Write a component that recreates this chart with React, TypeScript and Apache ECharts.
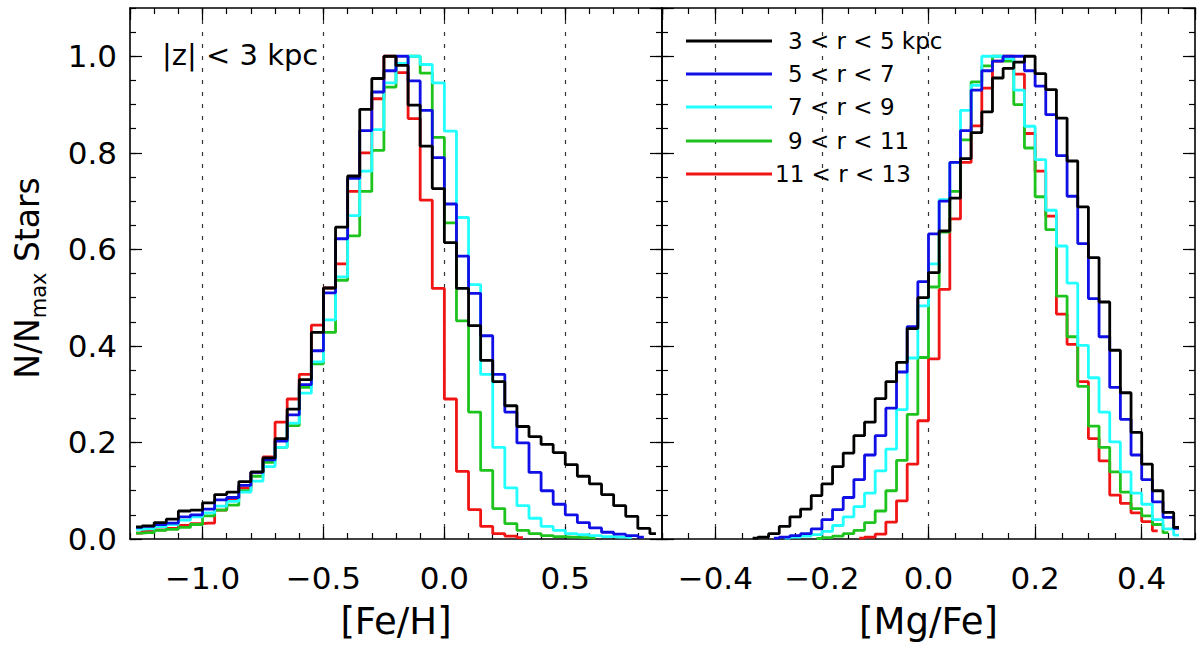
import React, { useEffect, useRef } from 'react';
import * as echarts from 'echarts';

// ---------- data ----------
const feCenters: number[] = [
  -1.275, -1.225, -1.175, -1.125, -1.075, -1.025, -0.975, -0.925, -0.875, -0.825,
  -0.775, -0.725, -0.675, -0.625, -0.575, -0.525, -0.475, -0.425, -0.375, -0.325,
  -0.275, -0.225, -0.175, -0.125, -0.075, -0.025, 0.025, 0.075, 0.125, 0.175,
  0.225, 0.275, 0.325, 0.375, 0.425, 0.475, 0.525, 0.575, 0.625, 0.675,
  0.725, 0.775, 0.825, 0.875,
];

const feBlack: (number | null)[] = [
  0.025, 0.027, 0.034, 0.041, 0.058, 0.060, 0.075, 0.092, 0.097, 0.119,
  0.139, 0.168, 0.208, 0.269, 0.330, 0.428, 0.520, 0.646, 0.752, 0.890,
  0.954, 1.000, 0.981, 0.899, 0.814, 0.726, 0.614, 0.519, 0.442, 0.370,
  0.326, 0.276, 0.233, 0.212, 0.196, 0.179, 0.154, 0.130, 0.114, 0.092,
  0.069, 0.047, 0.022, 0.011,
];
const feBlue: (number | null)[] = [
  0.024, 0.026, 0.030, 0.033, 0.046, 0.050, 0.062, 0.081, 0.086, 0.111,
  0.138, 0.164, 0.203, 0.257, 0.320, 0.390, 0.510, 0.622, 0.747, 0.846,
  0.926, 0.970, 1.000, 0.949, 0.888, 0.790, 0.694, 0.586, 0.509, 0.421,
  0.341, 0.263, 0.199, 0.138, 0.100, 0.072, 0.050, 0.034, 0.023, 0.014,
  0.010, 0.007, 0.004, null,
];
const feCyan: (number | null)[] = [
  0.020, 0.021, 0.025, 0.030, 0.039, 0.046, 0.054, 0.068, 0.078, 0.097,
  0.120, 0.150, 0.190, 0.240, 0.302, 0.367, 0.454, 0.543, 0.670, 0.762,
  0.848, 0.945, 0.985, 1.000, 0.983, 0.945, 0.845, 0.666, 0.527, 0.341,
  0.190, 0.106, 0.069, 0.043, 0.026, 0.018, 0.011, 0.009, 0.007, 0.005,
  0.004, 0.003, null, null,
];
const feGreen: (number | null)[] = [
  0.012, 0.013, 0.018, 0.020, 0.024, 0.030, 0.048, 0.060, 0.070, 0.100,
  0.130, 0.159, 0.190, 0.235, 0.314, 0.363, 0.428, 0.536, 0.628, 0.720,
  0.805, 0.936, 0.985, 1.000, 0.965, 0.832, 0.655, 0.452, 0.263, 0.142,
  0.063, 0.032, 0.018, 0.011, 0.007, 0.005, 0.004, 0.003, 0.002, null,
  null, null, null, null,
];
const feRed: (number | null)[] = [
  0.012, 0.016, 0.019, 0.022, 0.028, 0.032, 0.033, 0.060, 0.083, 0.106,
  0.138, 0.170, 0.242, 0.290, 0.341, 0.443, 0.520, 0.570, 0.720, 0.800,
  0.912, 1.000, 0.966, 0.871, 0.702, 0.519, 0.290, 0.140, 0.061, 0.026,
  0.011, 0.006, 0.003, null, null, null, null, null, null, null,
  null, null, null, null,
];

const mgCenters: number[] = [
  -0.35, -0.33, -0.31, -0.29, -0.27, -0.25, -0.23, -0.21, -0.19, -0.17,
  -0.15, -0.13, -0.11, -0.09, -0.07, -0.05, -0.03, -0.01, 0.01, 0.03,
  0.05, 0.07, 0.09, 0.11, 0.13, 0.15, 0.17, 0.19, 0.21, 0.23,
  0.25, 0.27, 0.29, 0.31, 0.33, 0.35, 0.37, 0.39, 0.41, 0.43,
  0.45, 0.47,
];
const mgBlack: (number | null)[] = [
  null, 0.002, 0.004, 0.011, 0.026, 0.046, 0.062, 0.090, 0.114, 0.150,
  0.178, 0.214, 0.242, 0.291, 0.326, 0.366, 0.436, 0.500, 0.552, 0.638,
  0.706, 0.788, 0.842, 0.885, 0.955, 0.975, 0.988, 1.000, 0.964, 0.931,
  0.872, 0.783, 0.688, 0.583, 0.491, 0.391, 0.303, 0.221, 0.155, 0.100,
  0.055, 0.024,
];
const mgBlue: (number | null)[] = [
  null, null, null, 0.002, 0.004, 0.007, 0.011, 0.021, 0.040, 0.061,
  0.086, 0.123, 0.174, 0.214, 0.271, 0.346, 0.440, 0.533, 0.632, 0.700,
  0.780, 0.846, 0.930, 0.970, 0.990, 1.000, 1.000, 0.970, 0.938, 0.879,
  0.794, 0.710, 0.612, 0.498, 0.419, 0.314, 0.248, 0.174, 0.123, 0.077,
  0.045, 0.022,
];
const mgCyan: (number | null)[] = [
  null, null, null, null, 0.002, 0.004, 0.006, 0.009, 0.016, 0.028,
  0.046, 0.067, 0.095, 0.141, 0.186, 0.268, 0.375, 0.483, 0.570, 0.703,
  0.780, 0.888, 0.940, 1.000, 1.000, 0.995, 0.930, 0.855, 0.786, 0.681,
  0.607, 0.530, 0.401, 0.334, 0.263, 0.201, 0.139, 0.095, 0.072, 0.040,
  0.021, 0.008,
];
const mgGreen: (number | null)[] = [
  null, null, null, null, null, null, null, 0.001, 0.003, 0.006,
  0.011, 0.018, 0.034, 0.058, 0.100, 0.163, 0.258, 0.376, 0.522, 0.636,
  0.720, 0.827, 0.947, 0.980, 1.000, 0.990, 0.900, 0.810, 0.709, 0.641,
  0.503, 0.419, 0.316, 0.234, 0.190, 0.139, 0.097, 0.063, 0.048, 0.030,
  0.013, null,
];
const mgRed: (number | null)[] = [
  null, null, null, null, null, null, null, null, null, null,
  null, 0.002, 0.004, 0.010, 0.035, 0.079, 0.155, 0.245, 0.373, 0.517,
  0.663, 0.780, 0.856, 0.934, 0.990, 1.000, 0.963, 0.840, 0.762, 0.669,
  0.466, 0.403, 0.326, 0.208, 0.162, 0.091, 0.074, 0.054, 0.036, 0.017,
  null, null,
];

const legendLabels: string[] = ['3 < r < 5 kpc', '5 < r < 7', '7 < r < 9', '9 < r < 11', '11 < r < 13'];
const seriesColors: string[] = ['#000000', '#1010e6', '#22ffff', '#1ec31e', '#f01414'];
const panelNote = '|z| < 3 kpc';

// ---------- helpers ----------
const FONT = "'DejaVu Sans', 'Liberation Sans', sans-serif";
const BLACK = '#000';

function fmt(v: number): string {
  const s = Math.abs(v).toFixed(1);
  return v < -1e-9 ? '\u2212' + s : s;
}

function pairs(xs: number[], ys: (number | null)[]): number[][] {
  const out: number[][] = [];
  for (let i = 0; i < xs.length; i++) {
    const y = ys[i];
    if (y !== null && y !== undefined) out.push([xs[i], y]);
  }
  return out;
}

function xAxesFor(grid: number, min: number, max: number, major: number, minor: number, name: string) {
  const tickStyle = { color: BLACK, width: 1.2 };
  const base = { type: 'value', gridIndex: grid, min, max };
  return [
    {
      ...base,
      position: 'bottom',
      minInterval: major,
      maxInterval: major,
      splitNumber: Math.floor((max - min) / major + 1e-6),
      axisLine: { show: true, onZero: false, lineStyle: { color: BLACK, width: 1.6 } },
      axisTick: { show: true, inside: true, length: 12, lineStyle: tickStyle },
      axisLabel: {
        show: true, margin: 23, fontSize: 31, color: BLACK, fontFamily: FONT,
        showMinLabel: false, showMaxLabel: false,
        formatter: (v: number) => (Math.abs(v - min) < 1e-6 || Math.abs(v - max) < 1e-6 ? '' : fmt(v)),
      },
      splitLine: { show: true, showMinLine: false, showMaxLine: false, lineStyle: { color: '#333', width: 1.2, type: [4, 8] } },
      name,
      nameLocation: 'middle',
      nameGap: 64,
      nameTextStyle: { fontSize: 37, color: BLACK, fontFamily: FONT },
    },
    {
      ...base,
      position: 'bottom',
      interval: minor,
      axisLine: { show: false, onZero: false },
      axisTick: { show: true, inside: true, length: 6, lineStyle: tickStyle },
      axisLabel: { show: false },
      splitLine: { show: false },
    },
    {
      ...base,
      position: 'top',
      minInterval: major,
      maxInterval: major,
      splitNumber: Math.floor((max - min) / major + 1e-6),
      axisLine: { show: true, onZero: false, lineStyle: { color: BLACK, width: 1.6 } },
      axisTick: { show: true, inside: true, length: 12, lineStyle: tickStyle },
      axisLabel: { show: false },
      splitLine: { show: false },
    },
    {
      ...base,
      position: 'top',
      interval: minor,
      axisLine: { show: false, onZero: false },
      axisTick: { show: true, inside: true, length: 6, lineStyle: tickStyle },
      axisLabel: { show: false },
      splitLine: { show: false },
    },
  ];
}

function yAxesFor(grid: number, labels: boolean) {
  const tickStyle = { color: BLACK, width: 1.2 };
  const base = { type: 'value', gridIndex: grid, min: 0, max: 1.1 };
  const mk = (position: string, major: boolean, withLabels: boolean) => ({
    ...base,
    position,
    interval: major ? 0.2 : 0.05,
    axisLine: { show: major, onZero: false, lineStyle: { color: BLACK, width: 1.6 } },
    axisTick: { show: true, inside: true, length: major ? 12 : 6, lineStyle: tickStyle },
    axisLabel: withLabels
      ? {
          show: true, margin: 13, fontSize: 31, color: BLACK, fontFamily: FONT,
          showMaxLabel: false,
          formatter: (v: number) => (v > 1.05 ? '' : v.toFixed(1)),
        }
      : { show: false },
    splitLine: { show: false },
  });
  return [mk('left', true, labels), mk('left', false, false), mk('right', true, false), mk('right', false, false)];
}

function stepSeries(name: string, xs: number[], ys: (number | null)[], color: string, axisIdx: number) {
  return {
    name,
    type: 'line',
    step: 'middle',
    xAxisIndex: axisIdx,
    yAxisIndex: axisIdx,
    data: pairs(xs, ys),
    showSymbol: false,
    symbol: 'none',
    lineStyle: { color, width: 2.8 },
    itemStyle: { color },
    emphasis: { disabled: true },
  };
}

const App: React.FC = () => {
  const ref = useRef<HTMLDivElement>(null);

  useEffect(() => {
    if (!ref.current) return;
    const chart = echarts.init(ref.current, null, { renderer: 'svg' });

    const feSets = [feBlack, feBlue, feCyan, feGreen, feRed];
    const mgSets = [mgBlack, mgBlue, mgCyan, mgGreen, mgRed];
    const order = [4, 3, 2, 1, 0]; // draw red first, black on top

    const series: any[] = [];
    order.forEach((i) => series.push(stepSeries(legendLabels[i], feCenters, feSets[i], seriesColors[i], 0)));
    order.forEach((i) => series.push(stepSeries(legendLabels[i] + ' ', mgCenters, mgSets[i], seriesColors[i], 4)));

    const legendRowsY = [41, 74, 107, 141, 174];
    const legendGraphics: any[] = [];
    legendLabels.forEach((lab, i) => {
      legendGraphics.push({
        type: 'line',
        shape: { x1: 686, y1: legendRowsY[i], x2: 772, y2: legendRowsY[i] },
        style: { stroke: seriesColors[i], lineWidth: 3 },
        z: 100,
      });
      legendGraphics.push({
        type: 'text',
        x: i === 4 ? 775 : 788,
        y: legendRowsY[i],
        style: { text: lab, fontSize: 23, fontFamily: FONT, fill: BLACK, align: 'left', verticalAlign: 'middle' },
        z: 100,
      });
    });

    const option: any = {
      animation: false,
      backgroundColor: '#ffffff',
      textStyle: { fontFamily: FONT },
      grid: [
        { left: 130, top: 8, width: 532, height: 531, containLabel: false },
        { left: 662, top: 8, width: 533, height: 531, containLabel: false },
      ],
      xAxis: [
        ...xAxesFor(0, -1.3, 0.9, 0.5, 0.1, '[Fe/H]'),
        ...xAxesFor(1, -0.5, 0.5, 0.2, 0.05, '[Mg/Fe]'),
      ],
      yAxis: [...yAxesFor(0, true), ...yAxesFor(1, false)],
      series,
      graphic: [
        {
          type: 'text',
          x: 162,
          y: 55,
          style: { text: panelNote, fontSize: 29, fontFamily: FONT, fill: BLACK, align: 'left', verticalAlign: 'middle' },
          z: 100,
        },
        {
          type: 'text',
          x: 27,
          y: 278,
          rotation: Math.PI / 2,
          style: {
            text: '{n|N/N}{s|max}{n| Stars}',
            align: 'center',
            verticalAlign: 'middle',
            rich: {
              n: { fontSize: 33, fontFamily: FONT, fill: BLACK, lineHeight: 44, verticalAlign: 'middle' },
              s: { fontSize: 21, fontFamily: FONT, fill: BLACK, lineHeight: 44, verticalAlign: 'bottom' },
            },
          },
          z: 100,
        },
        ...legendGraphics,
      ],
    };

    chart.setOption(option);
    return () => {
      chart.dispose();
    };
  }, []);

  return (
    <div
      ref={ref}
      style={{ position: 'fixed', left: 0, top: 0, width: 1200, height: 648, background: '#fff' }}
    />
  );
};

export default App;
